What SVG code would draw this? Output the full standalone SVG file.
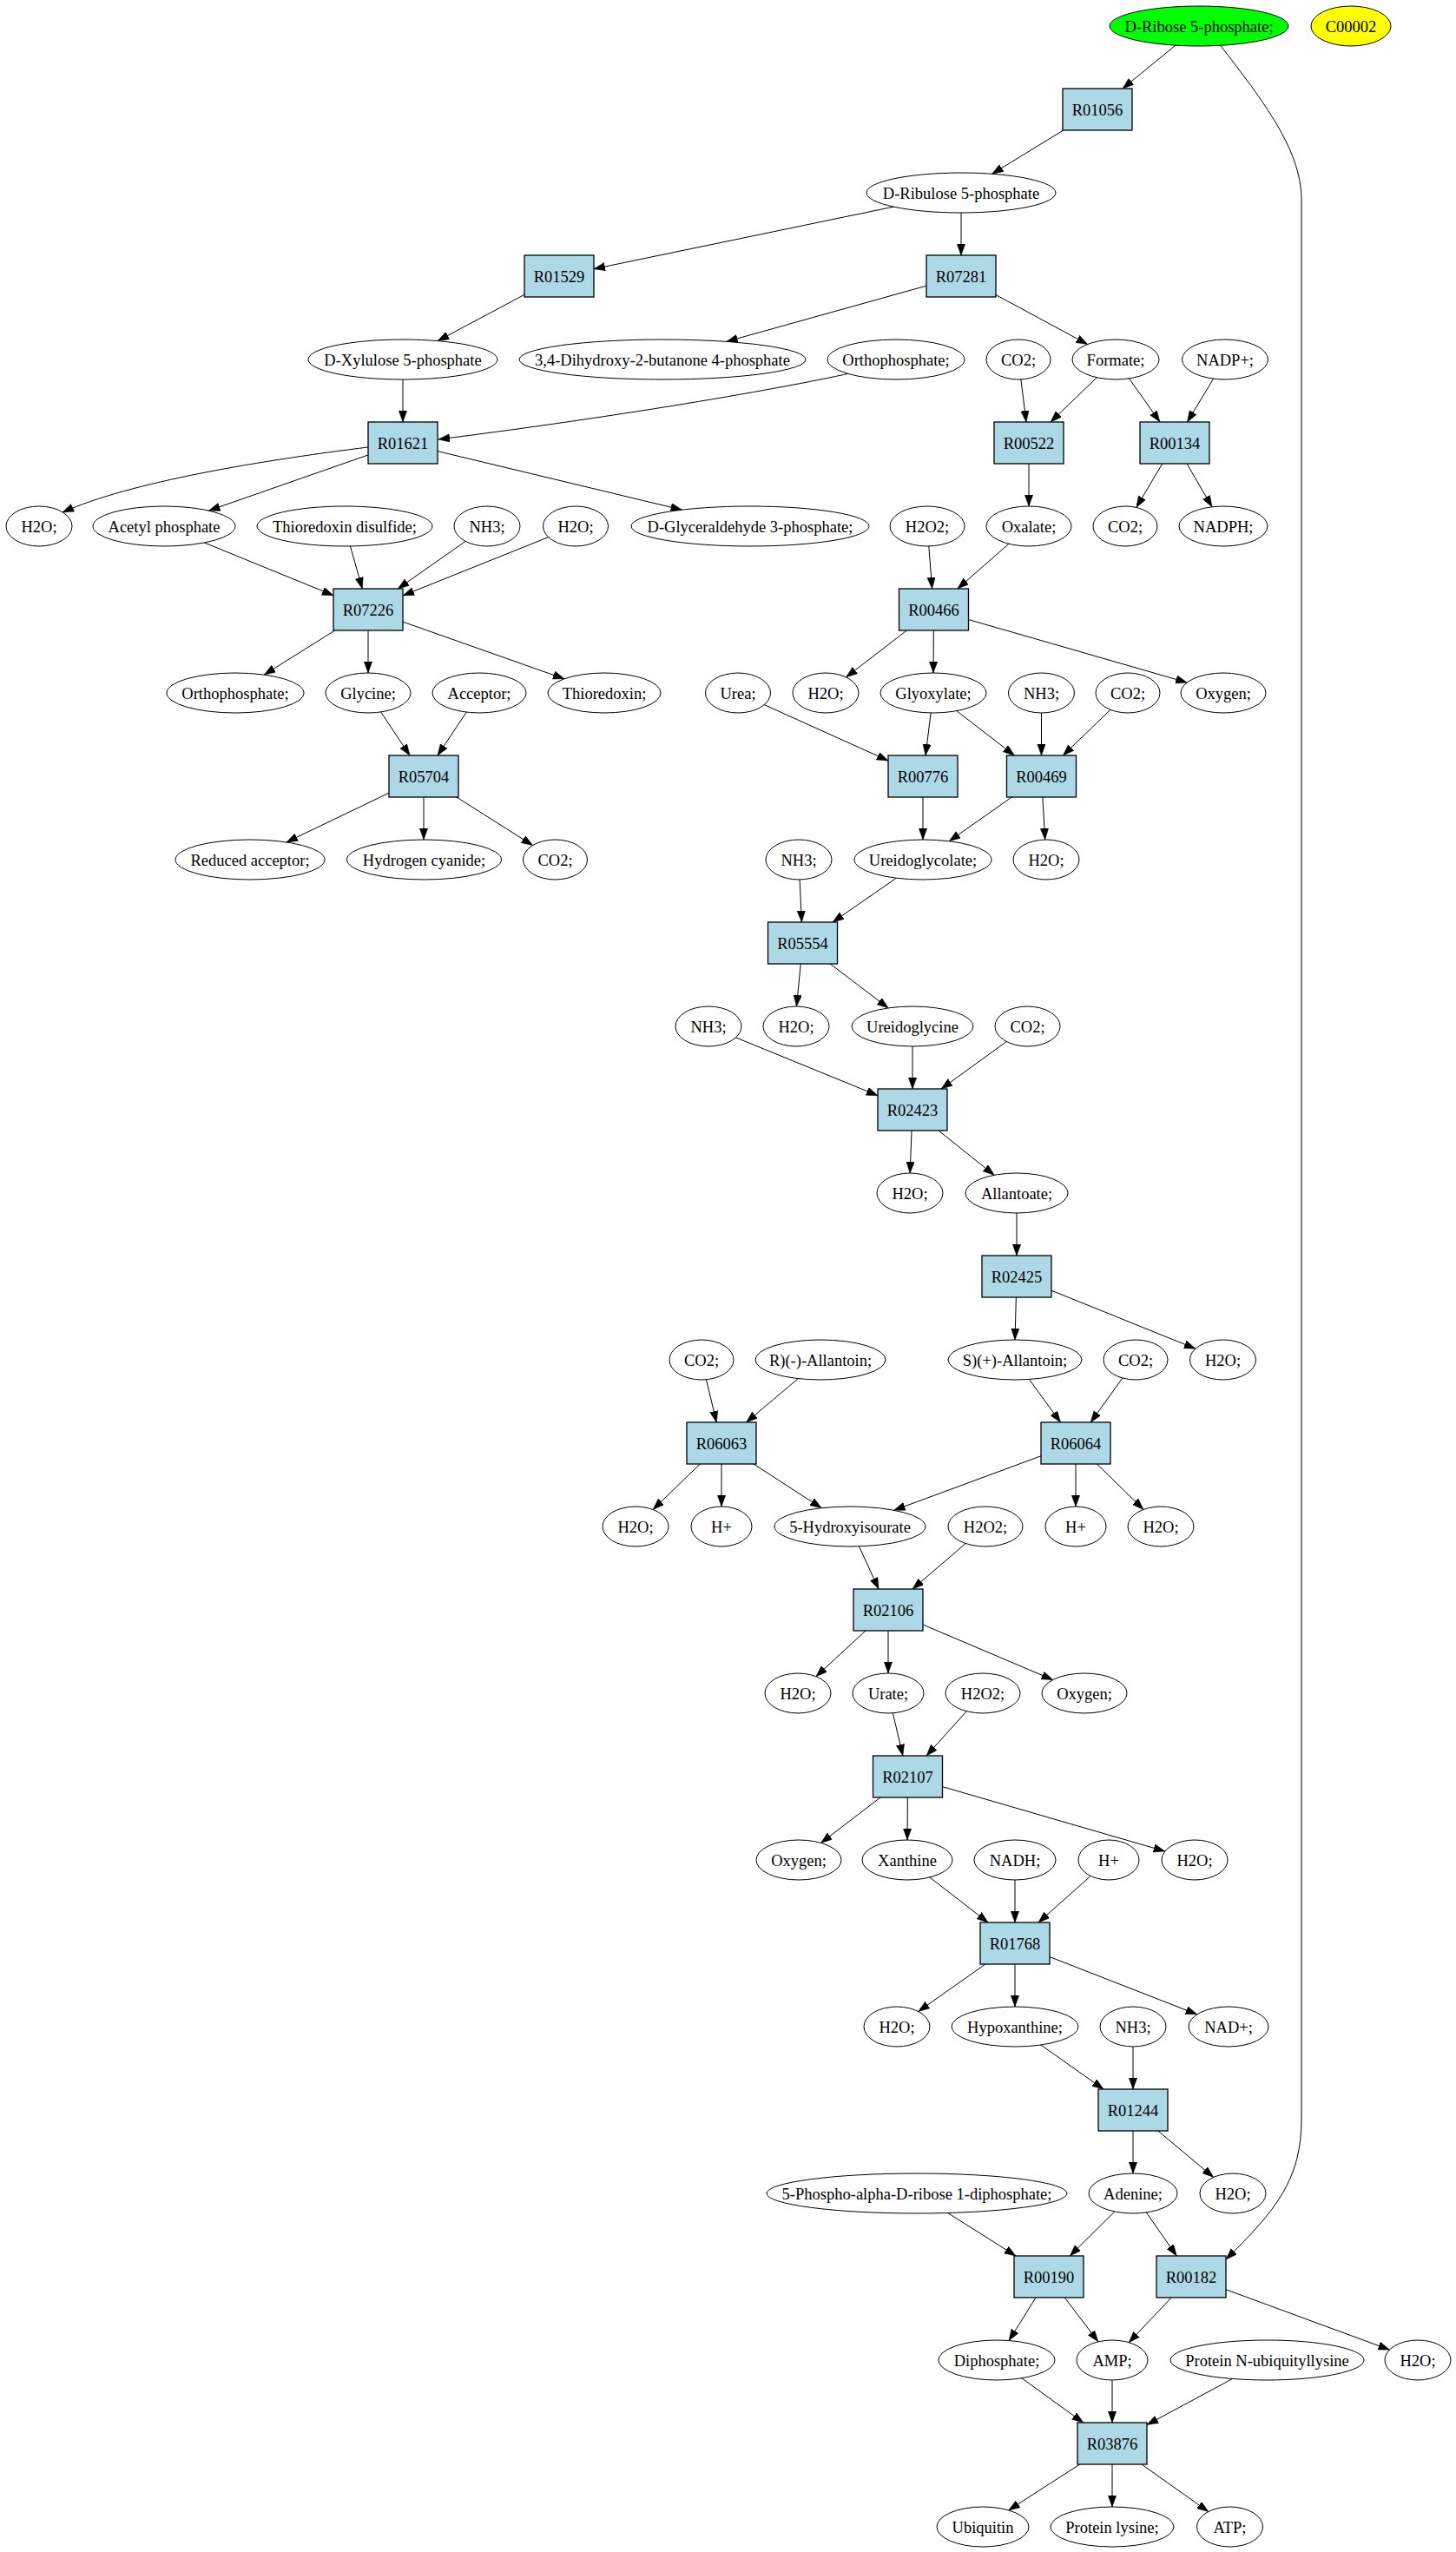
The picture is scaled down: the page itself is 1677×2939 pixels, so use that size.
<svg xmlns="http://www.w3.org/2000/svg" width="1677" height="2939" viewBox="0 0 1677 2939">
<defs>
<style>
.e line, .e path { stroke:#000; stroke-width:1; fill:none; marker-end:url(#ah); }
ellipse { fill:#fff; stroke:#000; stroke-width:1; }
rect { fill:#add8e6; stroke:#000; stroke-width:1.3; }
text { font-family:"Liberation Serif","Times New Roman",serif; font-size:18.5px; text-anchor:middle; fill:#000; }
</style>
<marker id="ah" markerWidth="14" markerHeight="10" refX="13" refY="4.7" orient="auto" markerUnits="userSpaceOnUse"><path d="M0,0 L13,4.7 L0,9.4 z" fill="#000" stroke="#000" stroke-width="0.5"/></marker>
</defs>
<rect x="0" y="0" width="1677" height="2939" style="fill:#fff;stroke:none"/>
<g id="edges" class="e">
<line x1="1381" y1="30" x2="1293" y2="102"/>
<path d="M1400,45 C1450,110 1499,170 1499,230 L1499,2440 C1499,2510 1470,2545 1412,2602"/>
<line x1="1264" y1="126" x2="1142.6" y2="200.3"/>
<line x1="1107" y1="222" x2="684" y2="309.7"/>
<line x1="1107" y1="222" x2="1107" y2="294"/>
<line x1="644" y1="318" x2="504.1" y2="392.6"/>
<line x1="1107" y1="318" x2="836.7" y2="393.4"/>
<line x1="1107" y1="318" x2="1252.6" y2="396.5"/>
<line x1="464" y1="414" x2="464" y2="486"/>
<path d="M1000,425 C940,440 750,475 505,506"/>
<line x1="1173" y1="414" x2="1182" y2="486"/>
<line x1="1285" y1="414" x2="1210" y2="486"/>
<line x1="1285" y1="414" x2="1336" y2="486"/>
<line x1="1411" y1="414" x2="1367.5" y2="486"/>
<path d="M440,513 C300,530 150,555 72,590"/>
<line x1="464" y1="510" x2="240.4" y2="588.1"/>
<line x1="464" y1="510" x2="785.5" y2="587.2"/>
<line x1="1185" y1="510" x2="1185" y2="583"/>
<line x1="1353" y1="510" x2="1308.8" y2="584.4"/>
<line x1="1353" y1="510" x2="1396" y2="583.8"/>
<line x1="189" y1="606" x2="384" y2="685.7"/>
<line x1="397" y1="606" x2="417.25" y2="678"/>
<line x1="561" y1="606" x2="458.25" y2="678"/>
<line x1="663" y1="606" x2="464" y2="685.9"/>
<line x1="1068" y1="606" x2="1073.6" y2="678"/>
<line x1="1185" y1="606" x2="1102.9" y2="678"/>
<line x1="424" y1="702" x2="304.3" y2="777.1"/>
<line x1="424" y1="702" x2="424" y2="775"/>
<line x1="424" y1="702" x2="650" y2="781.8"/>
<line x1="1075.5" y1="702" x2="974.5" y2="779.9"/>
<line x1="1075.5" y1="702" x2="1075" y2="775"/>
<line x1="1075.5" y1="702" x2="1367.2" y2="786"/>
<line x1="424" y1="798" x2="472" y2="870"/>
<line x1="552" y1="798" x2="504" y2="870"/>
<line x1="850" y1="798" x2="1023" y2="876"/>
<line x1="1075" y1="798" x2="1066" y2="870"/>
<line x1="1075" y1="798" x2="1168.4" y2="870"/>
<line x1="1199.5" y1="798" x2="1199.5" y2="870"/>
<line x1="1299" y1="798" x2="1224.4" y2="870"/>
<line x1="488" y1="894" x2="329.9" y2="969.9"/>
<line x1="488" y1="894" x2="488" y2="967"/>
<line x1="488" y1="894" x2="613.6" y2="973.6"/>
<line x1="1063" y1="894" x2="1063" y2="967"/>
<line x1="1199.5" y1="894" x2="1093.2" y2="968.7"/>
<line x1="1199.5" y1="894" x2="1203.7" y2="967"/>
<line x1="920" y1="990" x2="923.4" y2="1062"/>
<line x1="1063" y1="990" x2="959.1" y2="1062"/>
<line x1="924.5" y1="1086" x2="917.5" y2="1159"/>
<line x1="924.5" y1="1086" x2="1023.2" y2="1160.9"/>
<line x1="816" y1="1182" x2="1011" y2="1261.7"/>
<line x1="1051" y1="1182" x2="1051" y2="1254"/>
<line x1="1183.5" y1="1182" x2="1084.1" y2="1254"/>
<line x1="1051" y1="1278" x2="1048.1" y2="1351"/>
<line x1="1051" y1="1278" x2="1145.2" y2="1353.3"/>
<line x1="1171" y1="1374" x2="1171" y2="1446"/>
<line x1="1171" y1="1470" x2="1169" y2="1543"/>
<line x1="1171" y1="1470" x2="1376.9" y2="1553.2"/>
<line x1="808" y1="1566" x2="825.25" y2="1638"/>
<line x1="945" y1="1566" x2="859.5" y2="1638"/>
<line x1="1169" y1="1566" x2="1221.5" y2="1638"/>
<line x1="1308" y1="1566" x2="1256.25" y2="1638"/>
<line x1="831" y1="1662" x2="752.1" y2="1738.5"/>
<line x1="831" y1="1662" x2="831" y2="1735"/>
<line x1="831" y1="1662" x2="946.2" y2="1736.7"/>
<line x1="1239" y1="1662" x2="1029.6" y2="1739.3"/>
<line x1="1239" y1="1662" x2="1239" y2="1735"/>
<line x1="1239" y1="1662" x2="1317" y2="1738.4"/>
<line x1="979" y1="1758" x2="1012" y2="1830"/>
<line x1="1135" y1="1758" x2="1051" y2="1830"/>
<line x1="1023" y1="1854" x2="939.8" y2="1930.8"/>
<line x1="1023" y1="1854" x2="1023" y2="1927"/>
<line x1="1023" y1="1854" x2="1212.7" y2="1934.6"/>
<line x1="1023" y1="1950" x2="1039.9" y2="2022"/>
<line x1="1132" y1="1950" x2="1067.1" y2="2022"/>
<line x1="1045.5" y1="2046" x2="945.6" y2="2122.4"/>
<line x1="1045.5" y1="2046" x2="1045" y2="2119"/>
<line x1="1045.5" y1="2046" x2="1341.7" y2="2132"/>
<line x1="1045" y1="2142" x2="1138" y2="2214"/>
<line x1="1169" y1="2142" x2="1169" y2="2214"/>
<line x1="1277" y1="2142" x2="1196" y2="2214"/>
<line x1="1169" y1="2238" x2="1057.7" y2="2316.5"/>
<line x1="1169" y1="2238" x2="1169" y2="2311"/>
<line x1="1169" y1="2238" x2="1378.7" y2="2319.8"/>
<line x1="1169" y1="2334" x2="1271" y2="2406"/>
<line x1="1305" y1="2334" x2="1305" y2="2406"/>
<line x1="1305" y1="2430" x2="1305" y2="2503"/>
<line x1="1305" y1="2430" x2="1397.7" y2="2507.4"/>
<line x1="1056" y1="2526" x2="1170" y2="2598"/>
<line x1="1305" y1="2526" x2="1232.25" y2="2598"/>
<line x1="1305" y1="2526" x2="1355.25" y2="2598"/>
<line x1="1208" y1="2622" x2="1162.1" y2="2695.5"/>
<line x1="1208" y1="2622" x2="1264.9" y2="2696.8"/>
<line x1="1372" y1="2622" x2="1300.2" y2="2697.7"/>
<line x1="1372" y1="2622" x2="1600.5" y2="2706.1"/>
<line x1="1148" y1="2718" x2="1247.75" y2="2790"/>
<line x1="1281" y1="2718" x2="1281" y2="2790"/>
<line x1="1459.5" y1="2718" x2="1321" y2="2792.5"/>
<line x1="1281" y1="2814" x2="1161.6" y2="2890.9"/>
<line x1="1281" y1="2814" x2="1281" y2="2887"/>
<line x1="1281" y1="2814" x2="1391.8" y2="2892.5"/>
</g>
<g id="n_ribose"><ellipse cx="1381" cy="30" rx="103" ry="23" style="fill:#00ff00"/><text x="1381" y="36.5">D-Ribose 5-phosphate;</text></g>
<g id="n_c00002"><ellipse cx="1556" cy="30" rx="46" ry="23" style="fill:#ffff00"/><text x="1556" y="36.5">C00002</text></g>
<g id="n_ribulose"><ellipse cx="1107" cy="222" rx="109" ry="23"/><text x="1107" y="228.5">D-Ribulose 5-phosphate</text></g>
<g id="n_xylulose"><ellipse cx="464" cy="414" rx="109" ry="23"/><text x="464" y="420.5">D-Xylulose 5-phosphate</text></g>
<g id="n_dihydroxy"><ellipse cx="763" cy="414" rx="165" ry="23"/><text x="763" y="420.5">3,4-Dihydroxy-2-butanone 4-phosphate</text></g>
<g id="n_ortho1"><ellipse cx="1032" cy="414" rx="79" ry="23"/><text x="1032" y="420.5">Orthophosphate;</text></g>
<g id="n_co2_1"><ellipse cx="1173" cy="414" rx="37" ry="23"/><text x="1173" y="420.5">CO2;</text></g>
<g id="n_formate"><ellipse cx="1285" cy="414" rx="50" ry="23"/><text x="1285" y="420.5">Formate;</text></g>
<g id="n_nadp"><ellipse cx="1411" cy="414" rx="49.5" ry="23"/><text x="1411" y="420.5">NADP+;</text></g>
<g id="n_h2o_1"><ellipse cx="45" cy="606" rx="38" ry="23"/><text x="45" y="612.5">H2O;</text></g>
<g id="n_acetylp"><ellipse cx="189" cy="606" rx="82" ry="23"/><text x="189" y="612.5">Acetyl phosphate</text></g>
<g id="n_thiodis"><ellipse cx="397" cy="606" rx="101" ry="23"/><text x="397" y="612.5">Thioredoxin disulfide;</text></g>
<g id="n_nh3_1"><ellipse cx="561" cy="606" rx="38" ry="23"/><text x="561" y="612.5">NH3;</text></g>
<g id="n_h2o_2"><ellipse cx="663" cy="606" rx="37.5" ry="23"/><text x="663" y="612.5">H2O;</text></g>
<g id="n_g3p"><ellipse cx="864" cy="606" rx="137" ry="23"/><text x="864" y="612.5">D-Glyceraldehyde 3-phosphate;</text></g>
<g id="n_h2o2_1"><ellipse cx="1068" cy="606" rx="43" ry="23"/><text x="1068" y="612.5">H2O2;</text></g>
<g id="n_oxalate"><ellipse cx="1185" cy="606" rx="49" ry="23"/><text x="1185" y="612.5">Oxalate;</text></g>
<g id="n_co2_2"><ellipse cx="1296" cy="606" rx="37" ry="23"/><text x="1296" y="612.5">CO2;</text></g>
<g id="n_nadph"><ellipse cx="1409" cy="606" rx="51" ry="23"/><text x="1409" y="612.5">NADPH;</text></g>
<g id="n_ortho2"><ellipse cx="271" cy="798" rx="79" ry="23"/><text x="271" y="804.5">Orthophosphate;</text></g>
<g id="n_glycine"><ellipse cx="424" cy="798" rx="49" ry="23"/><text x="424" y="804.5">Glycine;</text></g>
<g id="n_acceptor"><ellipse cx="552" cy="798" rx="54" ry="23"/><text x="552" y="804.5">Acceptor;</text></g>
<g id="n_thio"><ellipse cx="696" cy="798" rx="65" ry="23"/><text x="696" y="804.5">Thioredoxin;</text></g>
<g id="n_urea"><ellipse cx="850" cy="798" rx="37.5" ry="23"/><text x="850" y="804.5">Urea;</text></g>
<g id="n_h2o_3"><ellipse cx="951" cy="798" rx="38" ry="23"/><text x="951" y="804.5">H2O;</text></g>
<g id="n_glyox"><ellipse cx="1075" cy="798" rx="61" ry="23"/><text x="1075" y="804.5">Glyoxylate;</text></g>
<g id="n_nh3_2"><ellipse cx="1199.5" cy="798" rx="38" ry="23"/><text x="1199.5" y="804.5">NH3;</text></g>
<g id="n_co2_3"><ellipse cx="1299" cy="798" rx="37" ry="23"/><text x="1299" y="804.5">CO2;</text></g>
<g id="n_oxygen_1"><ellipse cx="1409" cy="798" rx="49" ry="23"/><text x="1409" y="804.5">Oxygen;</text></g>
<g id="n_redacc"><ellipse cx="288" cy="990" rx="86" ry="23"/><text x="288" y="996.5">Reduced acceptor;</text></g>
<g id="n_hcn"><ellipse cx="488.5" cy="990" rx="89" ry="23"/><text x="488.5" y="996.5">Hydrogen cyanide;</text></g>
<g id="n_co2_4"><ellipse cx="639.5" cy="990" rx="37" ry="23"/><text x="639.5" y="996.5">CO2;</text></g>
<g id="n_nh3_3"><ellipse cx="920" cy="990" rx="38" ry="23"/><text x="920" y="996.5">NH3;</text></g>
<g id="n_ureidoglycolate"><ellipse cx="1063" cy="990" rx="79" ry="23"/><text x="1063" y="996.5">Ureidoglycolate;</text></g>
<g id="n_h2o_4"><ellipse cx="1205" cy="990" rx="38" ry="23"/><text x="1205" y="996.5">H2O;</text></g>
<g id="n_nh3_4"><ellipse cx="816" cy="1182" rx="38" ry="23"/><text x="816" y="1188.5">NH3;</text></g>
<g id="n_h2o_5"><ellipse cx="917" cy="1182" rx="38" ry="23"/><text x="917" y="1188.5">H2O;</text></g>
<g id="n_ureidoglycine"><ellipse cx="1051" cy="1182" rx="70" ry="23"/><text x="1051" y="1188.5">Ureidoglycine</text></g>
<g id="n_co2_5"><ellipse cx="1183.5" cy="1182" rx="37.5" ry="23"/><text x="1183.5" y="1188.5">CO2;</text></g>
<g id="n_h2o_6"><ellipse cx="1048" cy="1374" rx="38" ry="23"/><text x="1048" y="1380.5">H2O;</text></g>
<g id="n_allantoate"><ellipse cx="1171" cy="1374" rx="59" ry="23"/><text x="1171" y="1380.5">Allantoate;</text></g>
<g id="n_co2_6"><ellipse cx="808" cy="1566" rx="37" ry="23"/><text x="808" y="1572.5">CO2;</text></g>
<g id="n_rallantoin"><ellipse cx="945" cy="1566" rx="75" ry="23"/><text x="945" y="1572.5">R)(-)-Allantoin;</text></g>
<g id="n_sallantoin"><ellipse cx="1169" cy="1566" rx="77" ry="23"/><text x="1169" y="1572.5">S)(+)-Allantoin;</text></g>
<g id="n_co2_7"><ellipse cx="1308" cy="1566" rx="37" ry="23"/><text x="1308" y="1572.5">CO2;</text></g>
<g id="n_h2o_7"><ellipse cx="1408.5" cy="1566" rx="38" ry="23"/><text x="1408.5" y="1572.5">H2O;</text></g>
<g id="n_h2o_8"><ellipse cx="732" cy="1758" rx="38" ry="23"/><text x="732" y="1764.5">H2O;</text></g>
<g id="n_hplus_1"><ellipse cx="831" cy="1758" rx="35" ry="23"/><text x="831" y="1764.5">H+</text></g>
<g id="n_5hiu"><ellipse cx="979" cy="1758" rx="87" ry="23"/><text x="979" y="1764.5">5-Hydroxyisourate</text></g>
<g id="n_h2o2_2"><ellipse cx="1135" cy="1758" rx="43" ry="23"/><text x="1135" y="1764.5">H2O2;</text></g>
<g id="n_hplus_2"><ellipse cx="1239" cy="1758" rx="35" ry="23"/><text x="1239" y="1764.5">H+</text></g>
<g id="n_h2o_9"><ellipse cx="1337" cy="1758" rx="38" ry="23"/><text x="1337" y="1764.5">H2O;</text></g>
<g id="n_h2o_10"><ellipse cx="919" cy="1950" rx="38" ry="23"/><text x="919" y="1956.5">H2O;</text></g>
<g id="n_urate"><ellipse cx="1023" cy="1950" rx="41" ry="23"/><text x="1023" y="1956.5">Urate;</text></g>
<g id="n_h2o2_3"><ellipse cx="1132" cy="1950" rx="43" ry="23"/><text x="1132" y="1956.5">H2O2;</text></g>
<g id="n_oxygen_2"><ellipse cx="1249" cy="1950" rx="49" ry="23"/><text x="1249" y="1956.5">Oxygen;</text></g>
<g id="n_oxygen_3"><ellipse cx="920" cy="2142" rx="49" ry="23"/><text x="920" y="2148.5">Oxygen;</text></g>
<g id="n_xanthine"><ellipse cx="1045" cy="2142" rx="52" ry="23"/><text x="1045" y="2148.5">Xanthine</text></g>
<g id="n_nadh"><ellipse cx="1169" cy="2142" rx="47" ry="23"/><text x="1169" y="2148.5">NADH;</text></g>
<g id="n_hplus_3"><ellipse cx="1277" cy="2142" rx="35" ry="23"/><text x="1277" y="2148.5">H+</text></g>
<g id="n_h2o_11"><ellipse cx="1376" cy="2142" rx="38" ry="23"/><text x="1376" y="2148.5">H2O;</text></g>
<g id="n_h2o_12"><ellipse cx="1033" cy="2334" rx="38" ry="23"/><text x="1033" y="2340.5">H2O;</text></g>
<g id="n_hypox"><ellipse cx="1169" cy="2334" rx="73" ry="23"/><text x="1169" y="2340.5">Hypoxanthine;</text></g>
<g id="n_nh3_5"><ellipse cx="1305" cy="2334" rx="38" ry="23"/><text x="1305" y="2340.5">NH3;</text></g>
<g id="n_nad"><ellipse cx="1415" cy="2334" rx="46" ry="23"/><text x="1415" y="2340.5">NAD+;</text></g>
<g id="n_prpp"><ellipse cx="1056" cy="2526" rx="173" ry="23"/><text x="1056" y="2532.5">5-Phospho-alpha-D-ribose 1-diphosphate;</text></g>
<g id="n_adenine"><ellipse cx="1305" cy="2526" rx="51" ry="23"/><text x="1305" y="2532.5">Adenine;</text></g>
<g id="n_h2o_13"><ellipse cx="1420" cy="2526" rx="38" ry="23"/><text x="1420" y="2532.5">H2O;</text></g>
<g id="n_diphos"><ellipse cx="1148" cy="2718" rx="67" ry="23"/><text x="1148" y="2724.5">Diphosphate;</text></g>
<g id="n_amp"><ellipse cx="1281" cy="2718" rx="41" ry="23"/><text x="1281" y="2724.5">AMP;</text></g>
<g id="n_protub"><ellipse cx="1459.5" cy="2718" rx="111.5" ry="23"/><text x="1459.5" y="2724.5">Protein N-ubiquityllysine</text></g>
<g id="n_h2o_14"><ellipse cx="1633" cy="2718" rx="38" ry="23"/><text x="1633" y="2724.5">H2O;</text></g>
<g id="n_ubiq"><ellipse cx="1132" cy="2910" rx="53" ry="23"/><text x="1132" y="2916.5">Ubiquitin</text></g>
<g id="n_protlys"><ellipse cx="1281" cy="2910" rx="71" ry="23"/><text x="1281" y="2916.5">Protein lysine;</text></g>
<g id="n_atp"><ellipse cx="1416.5" cy="2910" rx="38" ry="23"/><text x="1416.5" y="2916.5">ATP;</text></g>
<g id="r_R01056"><rect x="1224" y="102" width="80" height="48"/><text x="1264" y="132.5">R01056</text></g>
<g id="r_R01529"><rect x="604" y="294" width="80" height="48"/><text x="644" y="324.5">R01529</text></g>
<g id="r_R07281"><rect x="1067" y="294" width="80" height="48"/><text x="1107" y="324.5">R07281</text></g>
<g id="r_R01621"><rect x="424" y="486" width="80" height="48"/><text x="464" y="516.5">R01621</text></g>
<g id="r_R00522"><rect x="1145" y="486" width="80" height="48"/><text x="1185" y="516.5">R00522</text></g>
<g id="r_R00134"><rect x="1313" y="486" width="80" height="48"/><text x="1353" y="516.5">R00134</text></g>
<g id="r_R07226"><rect x="384" y="678" width="80" height="48"/><text x="424" y="708.5">R07226</text></g>
<g id="r_R00466"><rect x="1035.5" y="678" width="80" height="48"/><text x="1075.5" y="708.5">R00466</text></g>
<g id="r_R05704"><rect x="448" y="870" width="80" height="48"/><text x="488" y="900.5">R05704</text></g>
<g id="r_R00776"><rect x="1023" y="870" width="80" height="48"/><text x="1063" y="900.5">R00776</text></g>
<g id="r_R00469"><rect x="1159.5" y="870" width="80" height="48"/><text x="1199.5" y="900.5">R00469</text></g>
<g id="r_R05554"><rect x="884.5" y="1062" width="80" height="48"/><text x="924.5" y="1092.5">R05554</text></g>
<g id="r_R02423"><rect x="1011" y="1254" width="80" height="48"/><text x="1051" y="1284.5">R02423</text></g>
<g id="r_R02425"><rect x="1131" y="1446" width="80" height="48"/><text x="1171" y="1476.5">R02425</text></g>
<g id="r_R06063"><rect x="791" y="1638" width="80" height="48"/><text x="831" y="1668.5">R06063</text></g>
<g id="r_R06064"><rect x="1199" y="1638" width="80" height="48"/><text x="1239" y="1668.5">R06064</text></g>
<g id="r_R02106"><rect x="983" y="1830" width="80" height="48"/><text x="1023" y="1860.5">R02106</text></g>
<g id="r_R02107"><rect x="1005.5" y="2022" width="80" height="48"/><text x="1045.5" y="2052.5">R02107</text></g>
<g id="r_R01768"><rect x="1129" y="2214" width="80" height="48"/><text x="1169" y="2244.5">R01768</text></g>
<g id="r_R01244"><rect x="1265" y="2406" width="80" height="48"/><text x="1305" y="2436.5">R01244</text></g>
<g id="r_R00190"><rect x="1168" y="2598" width="80" height="48"/><text x="1208" y="2628.5">R00190</text></g>
<g id="r_R00182"><rect x="1332" y="2598" width="80" height="48"/><text x="1372" y="2628.5">R00182</text></g>
<g id="r_R03876"><rect x="1241" y="2790" width="80" height="48"/><text x="1281" y="2820.5">R03876</text></g>
</svg>
